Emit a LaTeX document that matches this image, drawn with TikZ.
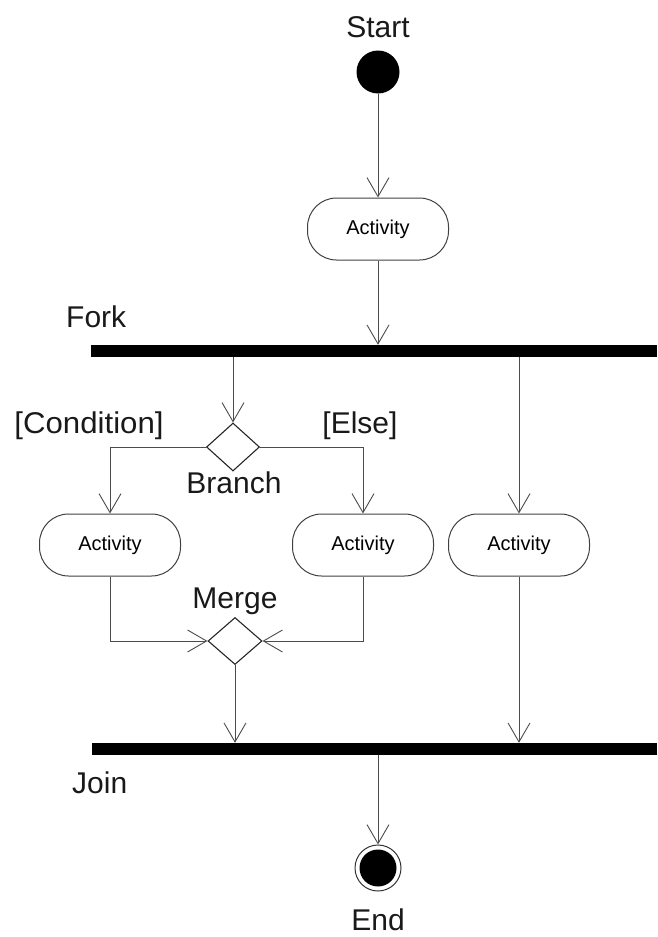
\documentclass[tikz,border=0pt]{standalone}
\usepackage{fontspec}
\setmainfont{Liberation Sans}
\usetikzlibrary{arrows.meta,shapes.geometric}

\begin{document}
\begin{tikzpicture}[x=1pt,y=-1pt,
  flow/.style={draw=black!70, line width=0.9pt,
    -{Straight Barb[length=19pt,width=22pt,line width=0.9pt]}},
  act/.style={draw=black!75, line width=1pt, rounded corners=29pt,
    minimum width=141pt, minimum height=62pt, inner sep=0pt,
    font=\fontsize{20}{22}\selectfont},
  decision/.style={draw=black!85, line width=1.1pt, diamond,
    minimum width=53pt, minimum height=48pt, inner sep=0pt},
  bar/.style={fill=black, minimum height=12pt, inner sep=0pt},
  lbl/.style={font=\fontsize{30}{32}\selectfont, inner sep=0pt, text=black!90}]

\useasboundingbox (0,0) rectangle (657,937);

% initial node
\node[circle, fill=black, minimum size=43pt, inner sep=0pt] (start) at (378,72) {};
\node[lbl, anchor=base] (startlbl) at (378,37) {Start};

% first activity
\node[act] (a1) at (378,229) {Activity};

% fork bar
\node[bar, minimum width=566pt] (fork) at (374,351) {};
\node[lbl, anchor=base west] (forklbl) at (66,327) {Fork};

% branch
\node[decision] (branch) at (233,447) {};
\node[lbl, anchor=base, xscale=1.04] (condlbl) at (89,433) {[Condition]};
\node[lbl, anchor=base] (elselbl) at (360,433) {[Else]};
\node[lbl, anchor=base] (branchlbl) at (234,493) {Branch};

% parallel activities
\node[act] (aL) at (110,545) {Activity};
\node[act] (aM) at (363,545) {Activity};
\node[act] (aR) at (519,545) {Activity};

% merge
\node[decision, minimum width=54pt, minimum height=47pt] (merge) at (235,641) {};
\node[lbl, anchor=base] (mergelbl) at (235,608) {Merge};

% join bar
\node[bar, minimum width=565pt] (join) at (374.5,749) {};
\node[lbl, anchor=base west] (joinlbl) at (72,793) {Join};

% final node
\node[circle, draw=black!80, line width=1pt, minimum size=46pt, inner sep=0pt] (end) at (378,868) {};
\node[circle, fill=black, minimum size=37pt, inner sep=0pt] (endcore) at (end) {};
\node[lbl, anchor=base] (endlbl) at (378,930) {End};

% control flows
\draw[flow] (start) -- (a1);
\draw[flow] (a1) -- (a1 |- fork.north);
\draw[flow] (branch |- fork.south) -- (branch.north);
\draw[flow] (aR |- fork.south) -- (aR.north);
\draw[flow] (branch.west) -| (aL.north);
\draw[flow] (branch.east) -| (aM.north);
\draw[flow] (aL.south) |- (merge.west);
\draw[flow] (aM.south) |- (merge.east);
\draw[flow] (merge.south) -- (merge |- join.north);
\draw[flow] (aR.south) -- (aR |- join.north);
\draw[flow] (end |- join.south) -- (end.north);
\end{tikzpicture}
\end{document}
